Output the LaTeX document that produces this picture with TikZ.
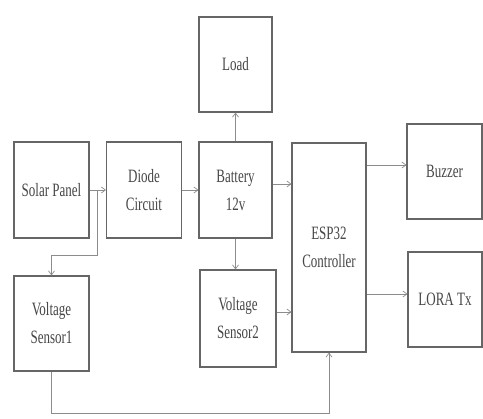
\documentclass[tikz,border=0pt]{standalone}
\usepackage{fontspec}
\usepackage{graphicx}
\setmainfont{Liberation Serif}
\usetikzlibrary{arrows.meta}
\newcommand{\tallt}[1]{\scalebox{1}[1.45]{#1}}
\begin{document}
\begin{tikzpicture}[x=1pt,y=-1pt,
  blk/.style={draw=black!60, line width=1.1pt, fill=white, rectangle, inner sep=0pt,
    align=center, text=black!72, font=\fontsize{13}{28}\selectfont},
  arr/.style={draw=black!45, line width=0.7pt, -{Straight Barb[length=4pt,width=6pt]}},
  ln/.style={draw=black!45, line width=0.7pt}]
\useasboundingbox (0,0) rectangle (483,419);
\node[blk, minimum width=73pt, minimum height=95pt] (load) at (235.5,64.5) {\tallt{Load}};
\node[blk, minimum width=75pt, minimum height=96pt] (solar) at (51.5,190) {\tallt{Solar Panel}};
\node[blk, minimum width=75pt, minimum height=96pt] (diode) at (144,190) {\tallt{Diode}\\\tallt{Circuit}};
\node[blk, minimum width=73pt, minimum height=96pt] (battery) at (235.5,190) {\tallt{Battery}\\\tallt{12v}};
\node[blk, minimum width=74pt, minimum height=209pt] (esp) at (329,247.5) {\tallt{ESP32}\\\tallt{Controller}};
\node[blk, minimum width=75pt, minimum height=95pt] (buzzer) at (444.5,171.5) {\tallt{Buzzer}};
\node[blk, minimum width=74pt, minimum height=95pt] (lora) at (445,299.5) {\tallt{LORA Tx}};
\node[blk, minimum width=75pt, minimum height=95pt] (vs1) at (51.5,323.5) {\tallt{Voltage}\\\tallt{Sensor1}};
\node[blk, minimum width=76pt, minimum height=97pt] (vs2) at (238,318.5) {\tallt{Voltage}\\\tallt{Sensor2}};
\coordinate (split) at (97,190);
\coordinate (bend) at (97,255);
\coordinate (bot) at (50,413);
\draw[arr] (solar.east) -- (diode.west);
\draw[arr] (split) -- (bend) -| (vs1.north);
\draw[arr] (diode.east) -- (battery.west);
\draw[arr] (battery.north) -- (load.south);
\draw[arr] (battery.east |- 0,184) -- (esp.west |- 0,184);
\draw[arr] (battery.south) -- (battery.south |- vs2.north);
\draw[arr] (vs2.east |- 0,312) -- (esp.west |- 0,312);
\draw[arr] (esp.east |- 0,165) -- (buzzer.west |- 0,165);
\draw[arr] (esp.east |- 0,294) -- (lora.west |- 0,294);
\draw[arr] (vs1.south) -- (vs1.south |- bot) -| (esp.south);
\end{tikzpicture}
\end{document}
